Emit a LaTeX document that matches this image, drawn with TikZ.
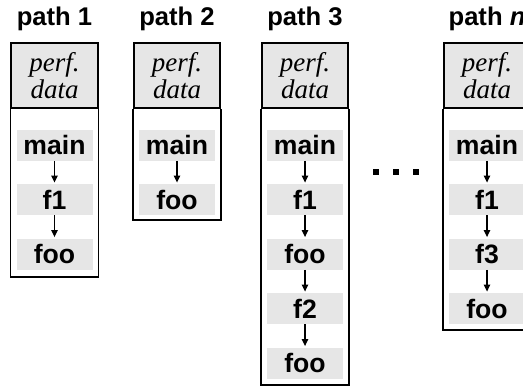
\documentclass[tikz,border=0pt]{standalone}
\usepackage{fontspec}
\setmainfont{Liberation Serif}
\newfontfamily\hvfont{Liberation Sans}
\usetikzlibrary{arrows.meta}
\definecolor{cellgray}{RGB}{230,230,230}
\begin{document}
\begin{tikzpicture}[x=0.5pt,y=-0.5pt,
  title/.style={font=\hvfont\bfseries\fontsize{12.8}{14}\selectfont, inner sep=0pt, anchor=base},
  hdr/.style={draw, line width=0.8pt, fill=cellgray, minimum width=43.25pt,
    minimum height=32.5pt, align=center, inner sep=0pt,
    font=\itshape\fontsize{13.5}{12}\selectfont},
  frame/.style={draw, line width=0.8pt},
  fn/.style={fill=cellgray, minimum width=38pt, minimum height=15.5pt, inner sep=0pt,
    font=\hvfont\bfseries\fontsize{13.3}{14}\selectfont},
  call/.style={-{Triangle[length=3.5pt,width=3.2pt]}, line width=0.7pt, shorten >=0.5pt},
  dot/.style={fill=black, minimum size=3pt, inner sep=0pt}
]
\useasboundingbox (0,0) rectangle (523,386);

% column titles
\node[title] (t1) at (54.5,25) {path 1};
\node[title] (t2) at (177,25) {path 2};
\node[title] (t3) at (305,25) {path 3};
\node[title] (t4) at (487,25) {path \textit{n}};

% performance-data headers
\node[hdr] (h1) at (54.5,75.5) {perf.\\data};
\node[hdr] (h2) at (177,75.5) {perf.\\data};
\node[hdr] (h3) at (305,75.5) {perf.\\data};
\node[hdr] (h4) at (487,75.5) {perf.\\data};

% lower edges of the call-path frames
\coordinate (b1) at (54.5,277);
\coordinate (b2) at (177,220);
\coordinate (b3) at (305,385);
\coordinate (b4) at (487,330);
\foreach \i in {1,2,3,4}{
  \draw[frame] (h\i.south west) -- (h\i.south west |- b\i)
    -- (h\i.south east |- b\i) -- (h\i.south east);
}

% path 1
\node[fn] (a1) at (54.5,145) {main};
\node[fn] (a2) at (54.5,199.5) {f1};
\node[fn] (a3) at (54.5,254) {foo};
\draw[call] (a1) -- (a2);
\draw[call] (a2) -- (a3);

% path 2
\node[fn] (c1) at (177,145) {main};
\node[fn] (c2) at (177,199.5) {foo};
\draw[call] (c1) -- (c2);

% path 3
\node[fn] (e1) at (305,145) {main};
\node[fn] (e2) at (305,199.5) {f1};
\node[fn] (e3) at (305,254) {foo};
\node[fn] (e4) at (305,308.5) {f2};
\node[fn] (e5) at (305,363) {foo};
\draw[call] (e1) -- (e2);
\draw[call] (e2) -- (e3);
\draw[call] (e3) -- (e4);
\draw[call] (e4) -- (e5);

% path n
\node[fn] (g1) at (487,145) {main};
\node[fn] (g2) at (487,199.5) {f1};
\node[fn] (g3) at (487,254) {f3};
\node[fn] (g4) at (487,308.5) {foo};
\draw[call] (g1) -- (g2);
\draw[call] (g2) -- (g3);
\draw[call] (g3) -- (g4);

% ellipsis between the columns
\node[dot] (d1) at (375.5,171.5) {};
\node[dot] (d2) at (395.5,171.5) {};
\node[dot] (d3) at (415.5,171.5) {};
\end{tikzpicture}
\end{document}
